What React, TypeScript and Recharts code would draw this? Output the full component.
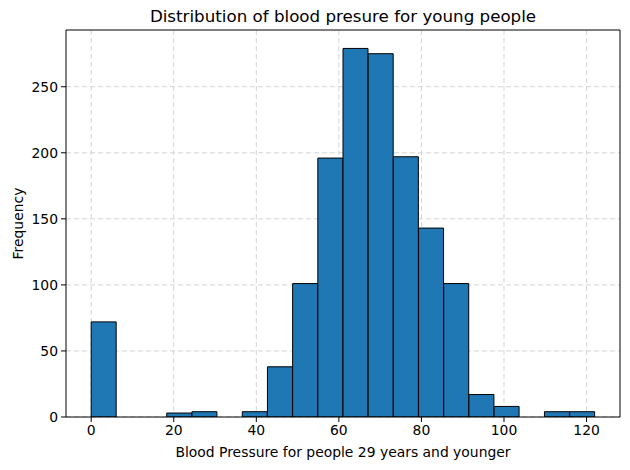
import React from 'react';
import { Bar, CartesianGrid, ComposedChart, ReferenceLine, XAxis, YAxis } from 'recharts';

// histogram bins (edges) and counts
const binEdges = [0, 6.1, 12.2, 18.3, 24.4, 30.5, 36.6, 42.7, 48.8, 54.9, 61, 67.1, 73.2, 79.3, 85.4, 91.5, 97.6, 103.7, 109.8, 115.9, 122];
const counts = [72, 0, 0, 3, 4, 0, 4, 38, 101, 196, 279, 275, 197, 143, 101, 17, 8, 0, 4, 4];
const xTicks = [0, 20, 40, 60, 80, 100, 120];
const yTicks = [0, 50, 100, 150, 200, 250];

const title = 'Distribution of blood presure for young people';
const xLabel = 'Blood Pressure for people 29 years and younger';
const yLabel = 'Frequency';

const data = counts.map((count, i) => ({
  center: (binEdges[i] + binEdges[i + 1]) / 2,
  count,
}));

// matplotlib-like 5% margins around the data
const span = binEdges[binEdges.length - 1] - binEdges[0];
const xDomain = [binEdges[0] - span * 0.05, binEdges[binEdges.length - 1] + span * 0.05];
const yDomain = [0, Math.max(...counts) * 1.05];

const font = '"DejaVu Sans", sans-serif';
const tickStyle = { fontSize: 13.9, fill: '#000', fontFamily: font };

const App: React.FC = () => {
  return (
    <div style={{ position: 'absolute', left: 0, top: 0, width: 630, height: 470, background: '#fff', fontFamily: font }}>
      <div
        style={{
          position: 'absolute',
          left: 66,
          width: 554,
          top: 6,
          textAlign: 'center',
          fontSize: 16.7,
          color: '#000',
        }}
      >
        {title}
      </div>
      <ComposedChart
        width={630}
        height={470}
        data={data}
        margin={{ top: 30, right: 10, left: 10, bottom: 3 }}
        barCategoryGap={0}
        barGap={0}
      >
        <CartesianGrid stroke="#d4d4d4" strokeDasharray="5 3" horizontalValues={yTicks} verticalValues={xTicks} />
        <XAxis
          dataKey="center"
          type="number"
          domain={xDomain}
          ticks={xTicks}
          allowDataOverflow
          height={50}
          stroke="#000"
          tick={tickStyle}
          tickSize={5}
          tickMargin={3}
          label={{ value: xLabel, position: 'insideBottom', offset: 10, fill: '#000', fontSize: 13.9, fontFamily: font }}
        />
        <YAxis
          type="number"
          domain={yDomain}
          ticks={yTicks}
          allowDataOverflow
          width={56}
          stroke="#000"
          tick={tickStyle}
          tickSize={5}
          tickMargin={3}
          label={({ viewBox }: any) => (
            <text
              x={viewBox.x + 8}
              y={viewBox.y + viewBox.height / 2}
              transform={`rotate(-90, ${viewBox.x + 8}, ${viewBox.y + viewBox.height / 2})`}
              textAnchor="middle"
              dominantBaseline="central"
              fontSize={13.9}
              fontFamily={font}
              fill="#000"
            >
              {yLabel}
            </text>
          )}
        />
        <Bar dataKey="count" fill="#1f77b4" stroke="#000" strokeWidth={1} isAnimationActive={false} />
        {/* top and right spines */}
        <ReferenceLine y={yDomain[1]} stroke="#000" strokeWidth={1} ifOverflow="visible" />
        <ReferenceLine x={xDomain[1]} stroke="#000" strokeWidth={1} ifOverflow="visible" />
      </ComposedChart>
    </div>
  );
};

export default App;
